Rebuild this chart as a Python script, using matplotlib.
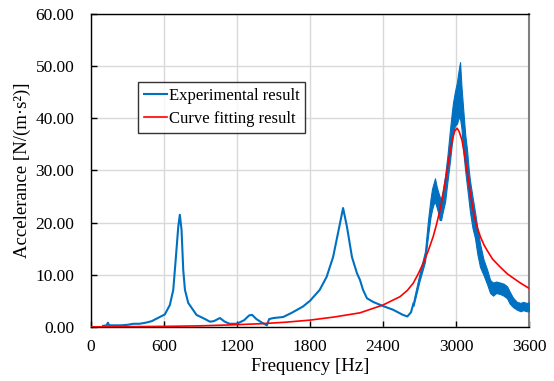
import matplotlib
matplotlib.use("Agg")
import matplotlib.pyplot as plt

plt.rcParams['font.family'] = ['Liberation Serif', 'DejaVu Serif']

# Experimental result (centre line)
exp_freq = [100, 130, 140, 150, 200, 250, 300, 350, 400, 450, 500, 550, 608, 649, 677, 699,
            718, 731, 745, 759, 773, 800, 868, 930, 978, 1010, 1060, 1100, 1140,
            1200, 1260, 1300, 1325, 1360, 1400, 1430, 1446, 1465, 1500, 1580, 1650, 1742,
            1800, 1880, 1937, 1990, 2047, 2072, 2104, 2145, 2186, 2211, 2236, 2268, 2318,
            2400, 2482, 2564, 2600, 2630, 2650]
exp_val = [0.2, 0.3, 0.8, 0.3, 0.3, 0.3, 0.4, 0.6, 0.6, 0.8, 1.1, 1.7, 2.4, 4.2, 7.1, 13.5,
           19.2, 21.5, 18.6, 10.9, 7.1, 4.6, 2.3, 1.6, 1.0, 1.1, 1.7, 1.0, 0.6,
           0.6, 1.3, 2.2, 2.3, 1.5, 0.9, 0.5, 0.3, 1.5, 1.7, 1.9, 2.7, 3.9,
           5.0, 7.1, 9.6, 13.4, 19.9, 22.8, 19.2, 13.4, 10.3, 9.0, 7.1, 5.5, 4.8,
           4.0, 3.3, 2.3, 2.0, 2.8, 4.5]

# Experimental result, noisy region (envelope of the jagged signal)
noise_freq = [2650, 2700, 2745, 2770, 2790, 2803, 2815, 2827, 2840, 2852, 2865, 2877, 2890,
              2910, 2930, 2951, 2965, 2975, 2990, 3008, 3020, 3033, 3045, 3058, 3075, 3090,
              3105, 3115, 3135, 3156, 3175, 3197, 3225, 3255, 3280, 3304, 3330, 3362, 3390,
              3419, 3440, 3468, 3500, 3530, 3551, 3580, 3600]
noise_low = [4.0, 8.8, 12.5, 17.5, 21.0, 22.5, 23.5, 24.0, 23.0, 22.0, 20.5, 20.5, 22.0,
             24.0, 28.0, 32.0, 35.0, 37.0, 38.5, 39.0, 40.0, 40.0, 38.0, 34.0, 30.0, 27.0,
             24.0, 22.0, 19.0, 17.0, 14.0, 11.5, 10.0, 8.2, 6.5, 6.0, 6.5, 6.3, 6.0,
             5.5, 4.5, 3.8, 3.3, 3.0, 3.2, 3.0, 3.0]
noise_high = [5.0, 10.2, 14.5, 20.5, 24.5, 26.5, 27.5, 28.5, 27.0, 26.0, 25.0, 24.5, 26.0,
              29.0, 33.0, 38.0, 41.0, 43.0, 45.0, 47.0, 49.0, 50.8, 46.0, 42.0, 37.0, 34.0,
              30.0, 28.0, 25.0, 22.0, 19.0, 16.0, 13.0, 11.0, 9.0, 8.5, 8.7, 8.5, 8.3,
              7.8, 6.8, 5.6, 4.8, 4.6, 4.8, 4.6, 4.7]

# Curve fitting result
fit_freq = [0, 300, 600, 896, 1167, 1389, 1600, 1800, 2000, 2211, 2400, 2540, 2600, 2649,
            2690, 2730, 2770, 2812, 2840, 2868, 2900, 2926, 2950, 2975, 2990, 3008, 3025,
            3049, 3070, 3090, 3110, 3131, 3150, 3172, 3200, 3230, 3255, 3300, 3362, 3420,
            3468, 3530, 3600]
fit_val = [0.0, 0.05, 0.1, 0.2, 0.4, 0.6, 0.9, 1.3, 1.9, 2.7, 4.2, 5.8, 7.0, 8.4,
           10.2, 12.2, 14.5, 17.3, 19.7, 22.4, 26.3, 30.0, 33.5, 36.4, 37.6, 38.1, 37.5,
           35.8, 33.0, 30.0, 26.8, 23.7, 21.2, 19.2, 17.3, 15.7, 14.7, 13.0, 11.5, 10.2,
           9.4, 8.4, 7.4]

x_ticks = [0, 600, 1200, 1800, 2400, 3000, 3600]
y_ticks = [0, 10, 20, 30, 40, 50, 60]

blue = '#0070C0'
red = '#FF0000'

fig = plt.figure(figsize=(5.54, 3.81), dpi=100)
ax = fig.add_axes([0.164, 0.142, 0.791, 0.821])

ax.fill_between(noise_freq, noise_low, noise_high, color=blue, lw=0.8, zorder=3)
ax.plot(exp_freq, exp_val, color=blue, lw=1.5, zorder=3, label='Experimental result')
ax.plot(fit_freq, fit_val, color=red, lw=1.2, zorder=4, label='Curve fitting result')

ax.set_xlim(0, 3600)
ax.set_ylim(0, 60)
ax.set_xticks(x_ticks)
ax.set_yticks(y_ticks)
ax.set_xticklabels([str(t) for t in x_ticks])
ax.set_yticklabels([f'{t:.2f}' for t in y_ticks])
ax.tick_params(direction='in', length=4, width=1, labelsize=12.5, colors='black')
ax.tick_params(axis='x', pad=9)
ax.tick_params(axis='y', pad=12)
ax.grid(True, color='#d9d9d9', lw=1)
ax.set_axisbelow(True)

for s in ['left', 'bottom', 'top']:
    ax.spines[s].set_color('black')
    ax.spines[s].set_linewidth(1)
ax.spines['right'].set_color('#808080')
ax.spines['right'].set_linewidth(1.5)

ax.set_xlabel('Frequency [Hz]', fontsize=13.5, labelpad=2)
ax.set_ylabel('Accelerance [N/(m·s²)]', fontsize=13.5, labelpad=3)

leg = ax.legend(loc='upper left', bbox_to_anchor=(0.107, 0.783), borderaxespad=0,
                fontsize=12, frameon=True, fancybox=False, edgecolor='black',
                handlelength=1.4, handletextpad=0.1, borderpad=0.35, labelspacing=0.45)
leg.get_frame().set_linewidth(1)

fig.savefig('out.png', dpi=100)
